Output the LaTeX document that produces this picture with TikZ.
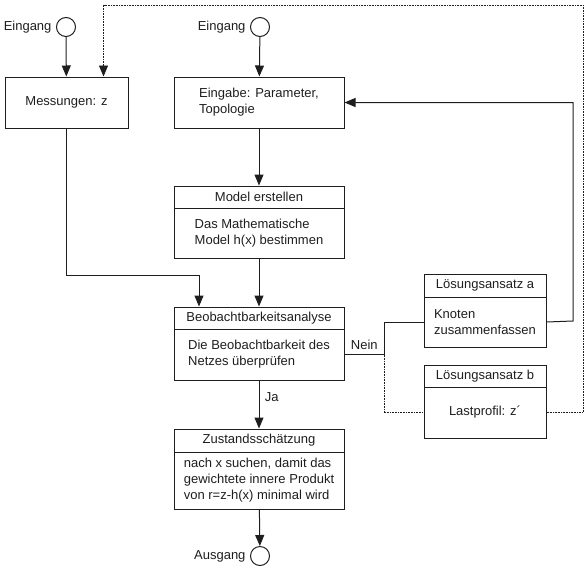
\documentclass[tikz,border=0pt]{standalone}
\usepackage{fontspec}
\setmainfont{Liberation Sans}
\usetikzlibrary{arrows.meta,positioning}
\definecolor{ink}{HTML}{1E1E1E}
\tikzset{every node/.style={font=\fontsize{13}{16}\selectfont,text=ink},
head/.style={draw=ink,line width=1pt,minimum width=170pt,minimum height=22pt,inner sep=0pt},
body/.style={draw=ink,line width=1pt,minimum width=170pt,align=left,inner sep=0pt},
port/.style={draw=ink,line width=1pt,circle,minimum size=19pt,inner sep=0pt},
arr/.style={-{Triangle[length=11pt,width=9pt]},draw=ink,line width=1pt},
link/.style={draw=ink,line width=1pt},
alt/.style={draw=ink,line width=.7pt,dash pattern=on .8pt off .8pt}}

\begin{document}
\begin{tikzpicture}[x=1pt,y=-1pt]
\useasboundingbox (0,0) rectangle (585,568);
\node[port] (in1) at (66,27) {};
\node[left=1pt of in1] (in1t) {Eingang};
\node[port] (in2) at (260,27) {};
\node[left=1pt of in2] (in2t) {Eingang};
\node[body,minimum width=123pt,minimum height=51pt,align=center] (mess) at (66.5,102.5) {Messungen: z};
\node[body,minimum height=51pt] (eing) at (259,102.5) {Eingabe: Parameter,\\Topologie};
\node[head] (model) at (259,197) {Model erstellen};
\node[body,minimum height=50pt,below=-1pt of model] (modelb) {Das Mathematische\\Model h(x) bestimmen};
\node[head] (beob) at (259,318) {Beobachtbarkeitsanalyse};
\node[body,minimum height=51pt,below=-1pt of beob] (beobb) {Die Beobachtbarkeit des\\Netzes überprüfen};
\node[head,minimum height=23pt] (zust) at (259,440.5) {Zustandsschätzung};
\node[body,minimum height=57pt,below=-1pt of zust] (zustb) {nach x suchen, damit das\\gewichtete innere Produkt\\von r=z-h(x) minimal wird};
\node[port] (out) at (260,556) {};
\node[left=1pt of out] (outt) {Ausgang};
\node[head,minimum width=122pt,minimum height=23pt] (losa) at (485,285.5) {Lösungsansatz a};
\node[body,minimum width=122pt,minimum height=50pt,below=-1pt of losa] (knoten) {Knoten\\zusammenfassen};
\node[head,minimum width=122pt] (losb) at (485,376) {Lösungsansatz b};
\node[body,minimum width=122pt,minimum height=51pt,align=center,below=-1pt of losb] (last) {Lastprofil: z´};
\coordinate (j1) at (199,275);
\coordinate (split) at (384,354.5);
\coordinate (fb) at (583,5);
\coordinate (back) at (573,321);
\draw[arr] (in1) -- (mess);
\draw[arr] (in2) -- (eing);
\draw[arr] (eing) -- (model);
\draw[arr] (modelb) -- (beob);
\draw[arr] (mess.south) |- (j1) -- (j1 |- beob.north);
\draw[arr] (beobb) -- node[pos=.35,right=2pt] {Ja} (zust);
\draw[arr] (zustb) -- (out);
\draw[link] (beobb.east) -- node[above=1pt] {Nein} (split);
\draw[link] (split) |- (knoten.west);
\draw[alt] (split) |- (last.west);
\draw[arr] (knoten.east) -- (back) |- (eing.east);
\draw[arr,alt] (last.east) -| (fb) -| ([xshift=37pt]mess.north);
\end{tikzpicture}
\end{document}
